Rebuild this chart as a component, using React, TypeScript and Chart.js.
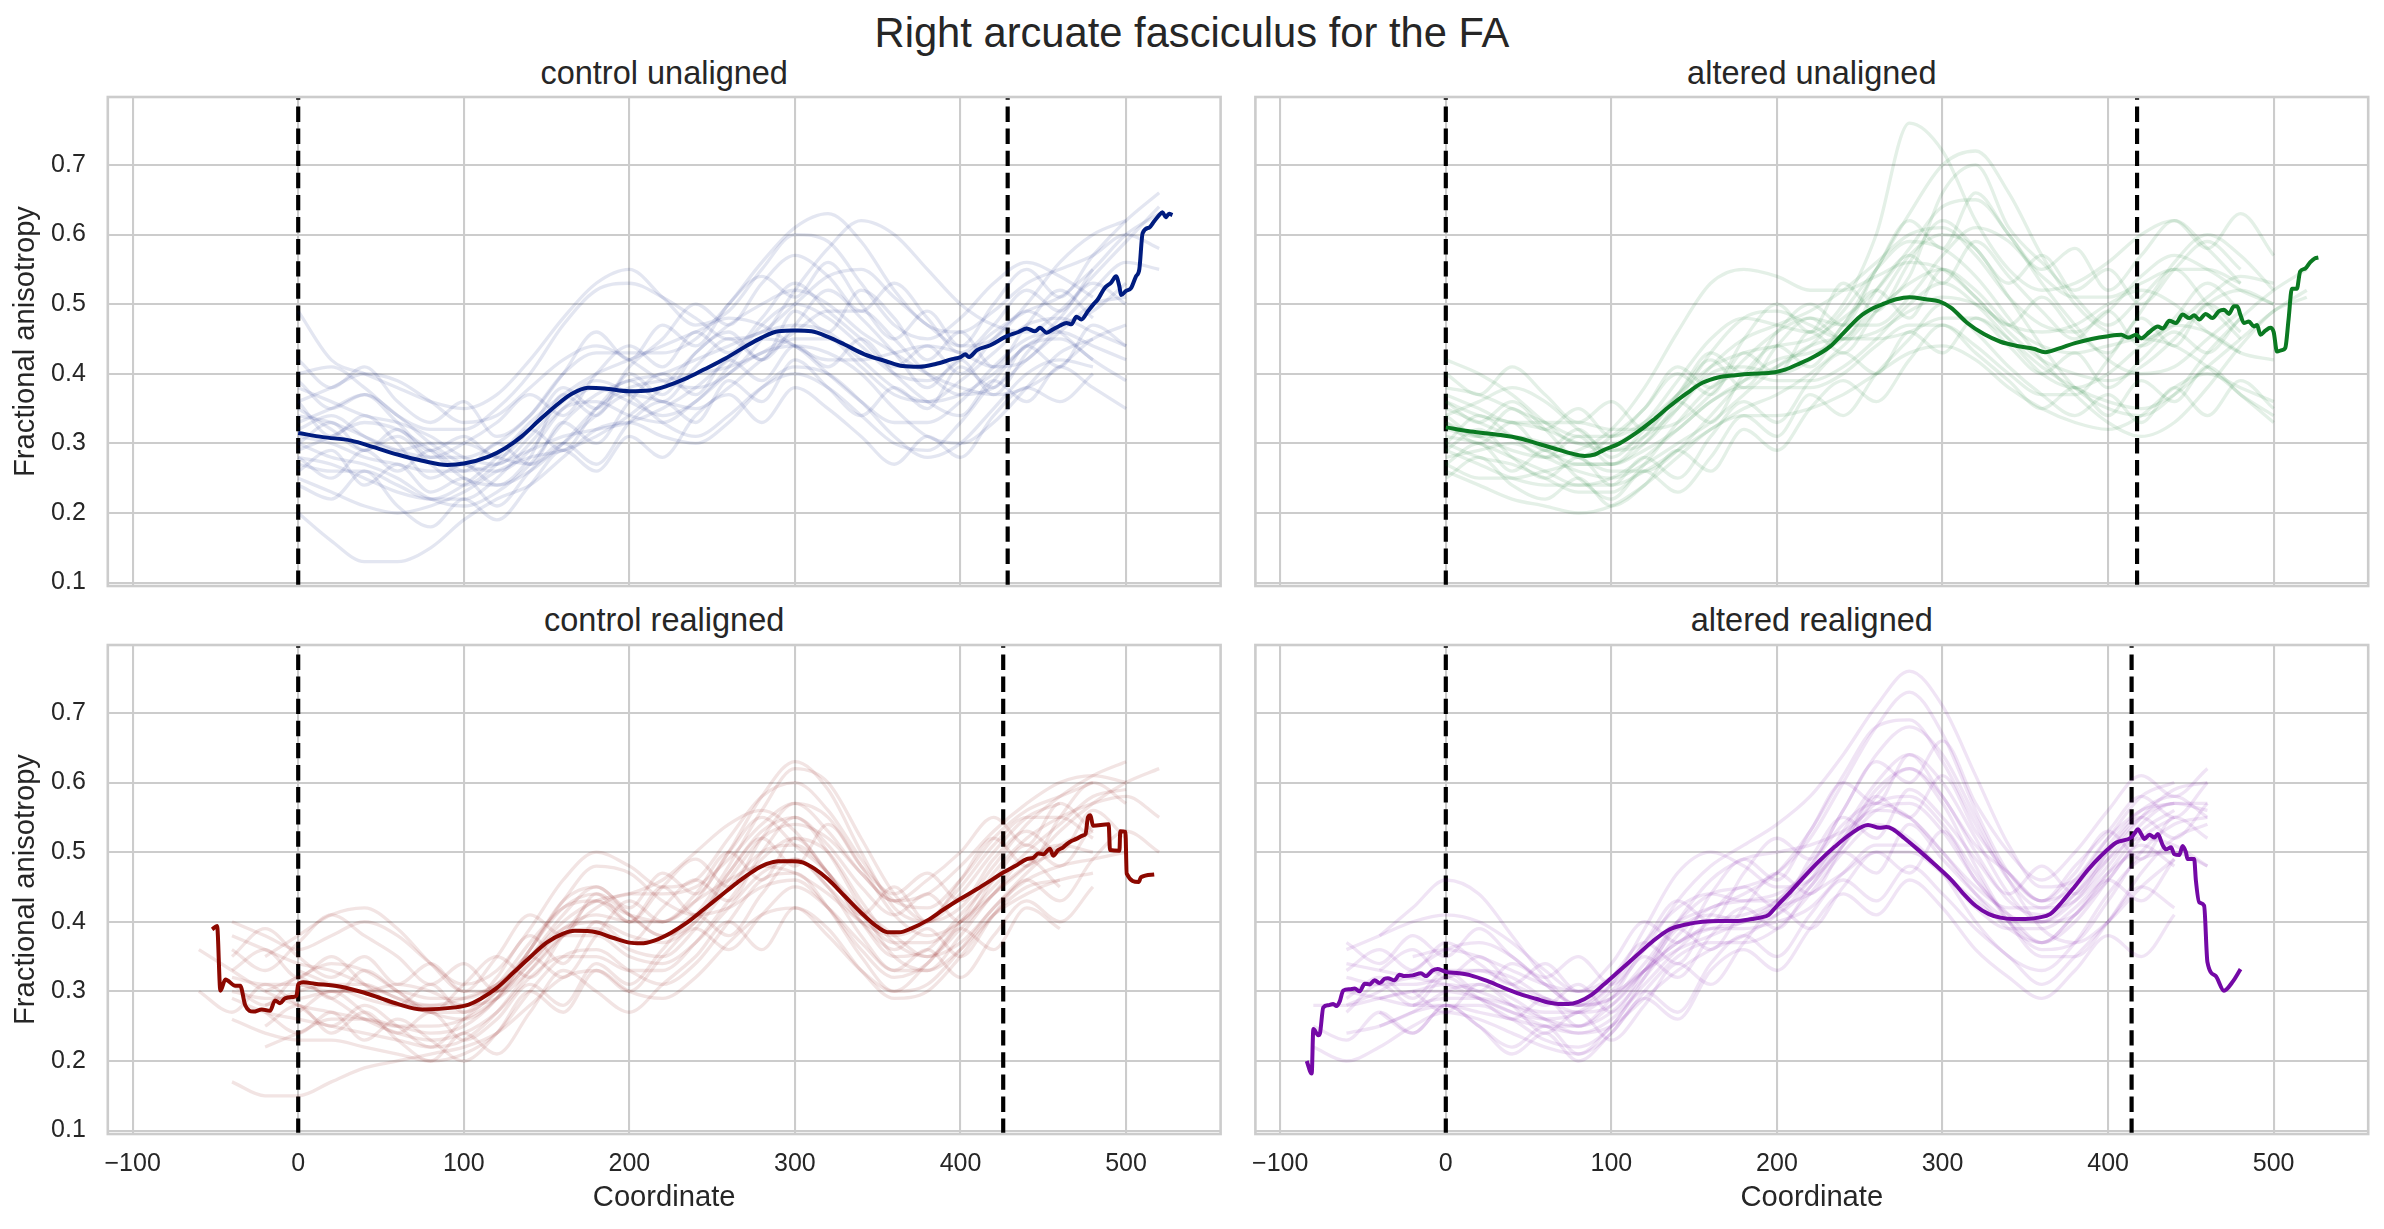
import { useEffect, useRef } from "react";
import { Chart, registerables } from "chart.js";

Chart.register(...registerables);

const FONT = '"Liberation Sans", Arial, Helvetica, sans-serif';
const TEXT = "#262626";
const GRID = "#cccccc";

// axis ticks and limits (shared by all four panels)
const xTicks = [-100, 0, 100, 200, 300, 400, 500];
const xTickLabels = ["\u2212100", "0", "100", "200", "300", "400", "500"];
const yTicks = [0.1, 0.2, 0.3, 0.4, 0.5, 0.6, 0.7];
const yTickLabels = ["0.1", "0.2", "0.3", "0.4", "0.5", "0.6", "0.7"];
const xLimits = [-115, 557.1];
const yLimits = [0.0951, 0.7976];

// sample positions of the individual subject profiles
const unalignedX = [0, 20, 40, 60, 80, 100, 120, 140, 160, 180, 200, 220, 240, 260, 280, 300, 320, 340, 360, 380, 400, 420, 440, 460, 480, 500, 520];
const controlRealignedX = [-60, -40, -20, 0, 20, 40, 60, 80, 100, 120, 140, 160, 180, 200, 220, 240, 260, 280, 300, 320, 340, 360, 380, 400, 420, 440, 460, 480, 500, 520];
const alteredRealignedX = [-80, -60, -40, -20, 0, 20, 40, 60, 80, 100, 120, 140, 160, 180, 200, 220, 240, 260, 280, 300, 320, 340, 360, 380, 400, 420, 440, 460, 480, 500];

const controlUnalignedSubjects = [
  [0.49, 0.42, 0.40, 0.38, 0.36, 0.35, 0.37, 0.42, 0.48, 0.53, 0.55, 0.51, 0.47, 0.49, 0.55, 0.60, 0.59, 0.53, 0.47, 0.45, 0.48, 0.53, 0.56, 0.54, 0.51, null, null],
  [0.20, 0.16, 0.13, 0.13, 0.15, 0.19, 0.22, 0.24, 0.28, 0.32, 0.33, 0.31, 0.30, 0.33, 0.38, 0.41, 0.40, 0.36, 0.31, 0.28, 0.30, 0.35, 0.40, 0.42, 0.41, null, null],
  [0.33, 0.35, 0.37, 0.34, 0.30, 0.27, 0.26, 0.29, 0.35, 0.38, 0.36, 0.34, 0.36, 0.41, 0.47, 0.50, 0.48, 0.44, 0.40, 0.39, 0.42, 0.46, 0.49, 0.51, 0.55, 0.60, 0.63],
  [0.30, 0.28, 0.27, 0.25, 0.22, 0.21, 0.23, 0.27, 0.33, 0.37, 0.39, 0.40, 0.42, 0.44, 0.46, 0.47, 0.46, 0.42, 0.38, 0.36, 0.37, 0.40, 0.44, 0.47, 0.49, 0.53, null],
  [0.36, 0.38, 0.40, 0.39, 0.36, 0.33, 0.34, 0.38, 0.42, 0.44, 0.42, 0.39, 0.38, 0.40, 0.45, 0.52, 0.58, 0.62, 0.60, 0.55, 0.50, 0.47, 0.46, 0.49, 0.54, 0.59, 0.64],
  [0.27, 0.26, 0.26, 0.24, 0.22, 0.22, 0.25, 0.30, 0.35, 0.36, 0.34, 0.33, 0.36, 0.40, 0.43, 0.44, 0.43, 0.40, 0.35, 0.31, 0.30, 0.33, 0.38, 0.43, 0.45, null, null],
  [0.40, 0.41, 0.38, 0.34, 0.32, 0.32, 0.35, 0.40, 0.47, 0.52, 0.53, 0.51, 0.48, 0.45, 0.46, 0.50, 0.54, 0.55, 0.51, 0.47, 0.44, 0.45, 0.50, 0.56, 0.60, 0.62, null],
  [0.31, 0.30, 0.28, 0.27, 0.26, 0.26, 0.27, 0.29, 0.31, 0.32, 0.33, 0.35, 0.38, 0.42, 0.45, 0.44, 0.40, 0.36, 0.33, 0.33, 0.36, 0.41, 0.45, 0.46, 0.44, 0.42, null],
  [0.25, 0.23, 0.21, 0.20, 0.21, 0.23, 0.26, 0.28, 0.29, 0.31, 0.34, 0.38, 0.43, 0.47, 0.50, 0.52, 0.50, 0.46, 0.43, 0.40, 0.38, 0.37, 0.38, 0.41, 0.45, 0.47, null],
  [0.34, 0.33, 0.31, 0.29, 0.28, 0.28, 0.30, 0.34, 0.40, 0.43, 0.43, 0.43, 0.45, 0.50, 0.56, 0.61, 0.63, 0.59, 0.52, 0.47, 0.46, 0.49, 0.53, 0.55, 0.57, 0.60, 0.58],
  [0.38, 0.36, 0.34, 0.33, 0.31, 0.28, 0.27, 0.31, 0.36, 0.39, 0.37, 0.33, 0.31, 0.34, 0.38, 0.40, 0.38, 0.34, 0.30, 0.29, 0.33, 0.39, 0.44, 0.45, 0.42, null, null],
  [0.29, 0.31, 0.33, 0.32, 0.29, 0.25, 0.24, 0.26, 0.30, 0.35, 0.38, 0.39, 0.40, 0.41, 0.43, 0.46, 0.49, 0.49, 0.45, 0.40, 0.37, 0.38, 0.42, 0.46, 0.50, 0.51, null],
  [0.28, 0.27, 0.25, 0.23, 0.22, 0.24, 0.28, 0.33, 0.37, 0.40, 0.42, 0.44, 0.46, 0.48, 0.47, 0.44, 0.42, 0.42, 0.43, 0.44, 0.43, 0.41, 0.42, 0.47, 0.52, 0.56, 0.55],
  [0.32, 0.34, 0.31, 0.29, 0.30, 0.30, 0.28, 0.27, 0.30, 0.34, 0.37, 0.36, 0.35, 0.38, 0.42, 0.45, 0.45, 0.41, 0.37, 0.36, 0.39, 0.43, 0.47, 0.48, 0.46, 0.44, null],
  [0.36, 0.31, 0.34, 0.30, 0.25, 0.27, 0.24, 0.28, 0.37, 0.34, 0.40, 0.37, 0.43, 0.46, 0.42, 0.49, 0.46, 0.52, 0.48, 0.42, 0.46, 0.41, 0.47, 0.52, 0.48, null, null],
  [0.26, 0.29, 0.24, 0.27, 0.23, 0.25, 0.21, 0.26, 0.30, 0.27, 0.33, 0.36, 0.33, 0.39, 0.36, 0.42, 0.38, 0.34, 0.38, 0.35, 0.41, 0.38, 0.44, 0.41, 0.47, 0.44, null],
  [0.42, 0.38, 0.41, 0.36, 0.33, 0.36, 0.31, 0.34, 0.40, 0.46, 0.42, 0.47, 0.44, 0.50, 0.54, 0.51, 0.56, 0.50, 0.45, 0.49, 0.44, 0.50, 0.55, 0.51, 0.57, 0.62, 0.66],
  [0.24, 0.22, 0.26, 0.21, 0.18, 0.22, 0.19, 0.24, 0.29, 0.26, 0.31, 0.28, 0.34, 0.37, 0.33, 0.38, 0.35, 0.31, 0.27, 0.31, 0.28, 0.34, 0.38, 0.36, 0.40, null, null],
  [0.30, 0.33, 0.29, 0.32, 0.28, 0.30, 0.33, 0.37, 0.34, 0.40, 0.44, 0.41, 0.46, 0.43, 0.48, 0.53, 0.49, 0.45, 0.41, 0.44, 0.40, 0.45, 0.49, 0.46, 0.42, 0.39, null],
  [0.35, 0.32, 0.29, 0.31, 0.27, 0.24, 0.27, 0.32, 0.29, 0.35, 0.39, 0.36, 0.41, 0.45, 0.42, 0.47, 0.52, 0.48, 0.43, 0.38, 0.42, 0.37, 0.43, 0.48, 0.53, 0.50, null],
  [0.28, 0.25, 0.29, 0.26, 0.29, 0.26, 0.30, 0.27, 0.33, 0.30, 0.36, 0.40, 0.37, 0.42, 0.39, 0.44, 0.41, 0.45, 0.40, 0.36, 0.34, 0.39, 0.36, 0.41, 0.38, 0.35, null],
  [0.39, 0.35, 0.37, 0.33, 0.29, 0.31, 0.28, 0.32, 0.38, 0.35, 0.41, 0.45, 0.50, 0.47, 0.53, 0.57, 0.54, 0.49, 0.53, 0.48, 0.43, 0.47, 0.52, 0.49, 0.55, null, null],
];

const alteredUnalignedSubjects = [
  [0.42, 0.40, 0.37, 0.33, 0.30, 0.30, 0.33, 0.39, 0.45, 0.48, 0.47, 0.46, 0.50, 0.60, 0.76, 0.72, 0.62, 0.55, 0.52, 0.53, 0.56, 0.60, 0.62, 0.58, 0.53, null, null],
  [0.26, 0.24, 0.22, 0.21, 0.20, 0.21, 0.24, 0.28, 0.32, 0.34, 0.34, 0.35, 0.37, 0.40, 0.43, 0.44, 0.42, 0.38, 0.35, 0.33, 0.32, 0.34, 0.38, 0.40, 0.38, 0.36, null],
  [0.34, 0.36, 0.38, 0.36, 0.32, 0.29, 0.30, 0.35, 0.41, 0.45, 0.47, 0.49, 0.52, 0.56, 0.60, 0.61, 0.57, 0.51, 0.47, 0.46, 0.49, 0.54, 0.57, 0.55, 0.52, 0.50, null],
  [0.30, 0.28, 0.27, 0.25, 0.23, 0.23, 0.27, 0.33, 0.38, 0.40, 0.39, 0.39, 0.41, 0.45, 0.50, 0.53, 0.50, 0.45, 0.40, 0.38, 0.40, 0.44, 0.47, 0.46, 0.43, null, null],
  [0.36, 0.34, 0.33, 0.32, 0.30, 0.29, 0.31, 0.35, 0.40, 0.41, 0.40, 0.42, 0.47, 0.55, 0.63, 0.70, 0.72, 0.66, 0.57, 0.50, 0.46, 0.45, 0.47, 0.51, 0.54, 0.53, null],
  [0.28, 0.29, 0.30, 0.28, 0.26, 0.25, 0.27, 0.30, 0.33, 0.37, 0.41, 0.44, 0.45, 0.45, 0.46, 0.48, 0.48, 0.45, 0.41, 0.38, 0.36, 0.35, 0.37, 0.41, 0.45, 0.49, 0.52],
  [0.33, 0.31, 0.29, 0.28, 0.29, 0.32, 0.38, 0.46, 0.53, 0.55, 0.54, 0.52, 0.52, 0.54, 0.56, 0.55, 0.51, 0.46, 0.42, 0.40, 0.39, 0.41, 0.45, 0.50, 0.52, 0.50, null],
  [0.31, 0.30, 0.28, 0.26, 0.24, 0.24, 0.26, 0.29, 0.32, 0.35, 0.37, 0.40, 0.44, 0.49, 0.53, 0.55, 0.52, 0.47, 0.44, 0.43, 0.44, 0.45, 0.44, 0.41, 0.37, 0.33, null],
  [0.38, 0.37, 0.35, 0.33, 0.31, 0.31, 0.33, 0.37, 0.41, 0.43, 0.44, 0.45, 0.48, 0.52, 0.58, 0.64, 0.65, 0.60, 0.53, 0.47, 0.42, 0.40, 0.41, 0.45, 0.49, null, null],
  [0.27, 0.25, 0.25, 0.26, 0.27, 0.27, 0.29, 0.32, 0.36, 0.38, 0.38, 0.38, 0.40, 0.44, 0.47, 0.47, 0.44, 0.40, 0.37, 0.37, 0.42, 0.49, 0.56, 0.60, 0.57, 0.52, null],
  [0.35, 0.33, 0.31, 0.29, 0.27, 0.27, 0.30, 0.36, 0.43, 0.48, 0.49, 0.47, 0.45, 0.46, 0.49, 0.51, 0.50, 0.47, 0.46, 0.47, 0.50, 0.52, 0.50, 0.46, 0.43, 0.42, null],
  [0.32, 0.31, 0.31, 0.30, 0.28, 0.26, 0.26, 0.29, 0.34, 0.39, 0.42, 0.43, 0.45, 0.50, 0.57, 0.60, 0.58, 0.51, 0.44, 0.38, 0.35, 0.34, 0.37, 0.43, 0.48, null, null],
  [0.29, 0.27, 0.25, 0.24, 0.24, 0.25, 0.28, 0.32, 0.36, 0.39, 0.41, 0.44, 0.49, 0.55, 0.59, 0.58, 0.54, 0.48, 0.42, 0.37, 0.33, 0.31, 0.33, 0.38, 0.44, 0.49, 0.51],
  [0.37, 0.35, 0.33, 0.33, 0.33, 0.32, 0.32, 0.33, 0.37, 0.42, 0.46, 0.48, 0.47, 0.47, 0.51, 0.57, 0.61, 0.59, 0.54, 0.51, 0.51, 0.53, 0.55, 0.55, 0.53, null, null],
  [0.30, 0.34, 0.31, 0.28, 0.31, 0.27, 0.31, 0.36, 0.33, 0.40, 0.44, 0.41, 0.47, 0.52, 0.48, 0.55, 0.51, 0.47, 0.51, 0.46, 0.43, 0.48, 0.44, 0.50, 0.46, null, null],
  [0.40, 0.37, 0.41, 0.37, 0.33, 0.36, 0.32, 0.37, 0.43, 0.40, 0.46, 0.50, 0.47, 0.55, 0.62, 0.58, 0.66, 0.60, 0.55, 0.58, 0.52, 0.57, 0.62, 0.58, 0.63, 0.57, null],
  [0.25, 0.28, 0.24, 0.22, 0.25, 0.21, 0.24, 0.29, 0.26, 0.32, 0.29, 0.35, 0.39, 0.36, 0.42, 0.47, 0.43, 0.39, 0.35, 0.38, 0.34, 0.39, 0.36, 0.41, 0.37, 0.34, null],
  [0.33, 0.30, 0.33, 0.29, 0.32, 0.28, 0.32, 0.37, 0.42, 0.38, 0.44, 0.48, 0.45, 0.52, 0.57, 0.53, 0.59, 0.54, 0.49, 0.45, 0.49, 0.44, 0.48, 0.53, 0.49, null, null],
  [0.29, 0.32, 0.28, 0.25, 0.28, 0.24, 0.28, 0.25, 0.31, 0.36, 0.33, 0.39, 0.43, 0.40, 0.46, 0.43, 0.48, 0.44, 0.40, 0.43, 0.38, 0.42, 0.46, 0.43, 0.48, 0.52, 0.55],
  [0.36, 0.33, 0.36, 0.32, 0.28, 0.31, 0.35, 0.41, 0.38, 0.45, 0.50, 0.46, 0.53, 0.49, 0.56, 0.62, 0.58, 0.53, 0.57, 0.51, 0.47, 0.51, 0.55, 0.50, 0.45, null, null],
  [0.27, 0.30, 0.26, 0.29, 0.25, 0.22, 0.26, 0.23, 0.28, 0.34, 0.31, 0.37, 0.34, 0.40, 0.45, 0.50, 0.46, 0.41, 0.37, 0.34, 0.37, 0.33, 0.38, 0.34, 0.39, 0.35, null],
  [0.34, 0.31, 0.35, 0.32, 0.35, 0.31, 0.35, 0.40, 0.37, 0.43, 0.40, 0.46, 0.43, 0.49, 0.54, 0.66, 0.70, 0.61, 0.56, 0.52, 0.55, 0.50, 0.55, 0.59, 0.55, null, null],
];

const controlRealignedSubjects = [
  [null, 0.40, 0.38, 0.36, 0.38, 0.40, 0.38, 0.34, 0.31, 0.33, 0.39, 0.46, 0.50, 0.48, 0.45, 0.46, 0.52, 0.58, 0.60, 0.56, 0.49, 0.43, 0.42, 0.46, 0.52, 0.56, 0.58, 0.60, null, null],
  [null, 0.17, 0.15, 0.15, 0.17, 0.19, 0.20, 0.21, 0.22, 0.24, 0.28, 0.32, 0.33, 0.30, 0.29, 0.32, 0.37, 0.41, 0.42, 0.39, 0.33, 0.29, 0.30, 0.35, 0.41, 0.45, 0.46, null, null, null],
  [null, null, 0.30, 0.32, 0.34, 0.33, 0.30, 0.27, 0.26, 0.29, 0.36, 0.43, 0.45, 0.41, 0.38, 0.41, 0.48, 0.56, 0.62, 0.60, 0.52, 0.44, 0.40, 0.42, 0.48, 0.54, 0.58, 0.61, 0.63, null],
  [null, 0.29, 0.27, 0.26, 0.25, 0.24, 0.23, 0.22, 0.23, 0.27, 0.33, 0.38, 0.39, 0.36, 0.35, 0.39, 0.45, 0.50, 0.51, 0.47, 0.40, 0.35, 0.36, 0.41, 0.46, 0.49, 0.51, 0.50, null, null],
  [null, null, null, 0.33, 0.31, 0.29, 0.28, 0.28, 0.29, 0.31, 0.35, 0.40, 0.43, 0.44, 0.46, 0.50, 0.54, 0.56, 0.53, 0.47, 0.41, 0.37, 0.37, 0.40, 0.44, 0.48, 0.53, 0.57, 0.60, 0.62],
  [0.36, 0.33, 0.30, 0.28, 0.27, 0.26, 0.25, 0.25, 0.26, 0.29, 0.34, 0.38, 0.38, 0.35, 0.34, 0.37, 0.42, 0.47, 0.49, 0.45, 0.38, 0.33, 0.33, 0.38, 0.44, 0.48, 0.50, null, null, null],
  [null, null, 0.35, 0.38, 0.41, 0.42, 0.39, 0.34, 0.30, 0.30, 0.34, 0.39, 0.41, 0.40, 0.40, 0.43, 0.46, 0.48, 0.47, 0.44, 0.40, 0.38, 0.40, 0.45, 0.51, 0.55, 0.55, 0.52, null, null],
  [null, 0.26, 0.24, 0.23, 0.23, 0.22, 0.21, 0.20, 0.21, 0.24, 0.30, 0.35, 0.36, 0.33, 0.31, 0.34, 0.40, 0.46, 0.47, 0.42, 0.35, 0.30, 0.31, 0.36, 0.42, 0.46, 0.48, 0.49, 0.50, null],
  [null, null, null, 0.31, 0.30, 0.30, 0.31, 0.30, 0.28, 0.29, 0.33, 0.38, 0.42, 0.44, 0.44, 0.45, 0.49, 0.54, 0.57, 0.55, 0.48, 0.41, 0.38, 0.40, 0.45, 0.50, 0.54, 0.58, 0.59, null],
  [null, 0.32, 0.31, 0.31, 0.29, 0.26, 0.24, 0.23, 0.24, 0.27, 0.32, 0.35, 0.35, 0.33, 0.33, 0.37, 0.43, 0.49, 0.52, 0.50, 0.43, 0.37, 0.35, 0.37, 0.42, 0.47, 0.51, 0.53, null, null],
  [null, null, 0.28, 0.30, 0.31, 0.31, 0.29, 0.28, 0.28, 0.31, 0.37, 0.42, 0.43, 0.41, 0.40, 0.43, 0.50, 0.58, 0.63, 0.59, 0.50, 0.42, 0.40, 0.44, 0.50, 0.55, 0.57, null, null, null],
  [null, 0.38, 0.36, 0.34, 0.33, 0.31, 0.29, 0.27, 0.27, 0.30, 0.36, 0.43, 0.48, 0.47, 0.43, 0.41, 0.42, 0.45, 0.46, 0.42, 0.36, 0.32, 0.34, 0.40, 0.47, 0.52, 0.55, 0.57, 0.58, 0.55],
  [null, null, 0.22, 0.24, 0.26, 0.26, 0.25, 0.24, 0.25, 0.29, 0.36, 0.42, 0.44, 0.41, 0.38, 0.40, 0.47, 0.53, 0.55, 0.50, 0.42, 0.35, 0.33, 0.36, 0.41, 0.44, 0.46, 0.47, null, null],
  [null, 0.30, 0.29, 0.29, 0.30, 0.30, 0.30, 0.29, 0.29, 0.31, 0.35, 0.39, 0.40, 0.38, 0.37, 0.40, 0.46, 0.52, 0.54, 0.52, 0.47, 0.43, 0.44, 0.48, 0.53, 0.57, 0.60, 0.61, 0.60, null],
  [null, 0.33, 0.36, 0.32, 0.35, 0.31, 0.28, 0.31, 0.27, 0.32, 0.38, 0.34, 0.40, 0.37, 0.42, 0.46, 0.43, 0.50, 0.55, 0.51, 0.45, 0.41, 0.44, 0.40, 0.46, 0.51, 0.48, 0.54, null, null],
  [null, null, 0.25, 0.28, 0.24, 0.27, 0.23, 0.20, 0.24, 0.21, 0.27, 0.33, 0.30, 0.27, 0.31, 0.35, 0.40, 0.36, 0.42, 0.38, 0.33, 0.30, 0.34, 0.39, 0.36, 0.42, 0.39, null, null, null],
  [null, 0.36, 0.33, 0.37, 0.41, 0.38, 0.35, 0.31, 0.34, 0.30, 0.35, 0.41, 0.45, 0.42, 0.47, 0.44, 0.50, 0.55, 0.51, 0.47, 0.41, 0.45, 0.40, 0.46, 0.52, 0.48, 0.55, 0.60, 0.57, null],
  [null, null, null, 0.27, 0.30, 0.27, 0.24, 0.27, 0.23, 0.26, 0.31, 0.28, 0.34, 0.31, 0.36, 0.41, 0.38, 0.44, 0.49, 0.45, 0.40, 0.36, 0.39, 0.35, 0.41, 0.46, 0.43, 0.49, 0.53, 0.50],
  [0.30, 0.27, 0.31, 0.28, 0.25, 0.28, 0.25, 0.22, 0.26, 0.30, 0.35, 0.32, 0.38, 0.43, 0.40, 0.44, 0.50, 0.46, 0.52, 0.47, 0.42, 0.38, 0.35, 0.39, 0.44, 0.49, 0.45, null, null, null],
  [null, 0.35, 0.39, 0.35, 0.32, 0.35, 0.31, 0.34, 0.30, 0.35, 0.41, 0.38, 0.44, 0.40, 0.45, 0.49, 0.45, 0.52, 0.57, 0.53, 0.47, 0.43, 0.46, 0.50, 0.55, 0.51, 0.57, 0.53, null, null],
  [null, null, 0.27, 0.24, 0.27, 0.23, 0.26, 0.23, 0.20, 0.24, 0.30, 0.27, 0.33, 0.30, 0.35, 0.39, 0.36, 0.41, 0.45, 0.42, 0.37, 0.33, 0.36, 0.32, 0.38, 0.43, 0.40, 0.45, null, null],
  [null, 0.31, 0.28, 0.32, 0.29, 0.33, 0.30, 0.27, 0.31, 0.35, 0.32, 0.38, 0.43, 0.40, 0.45, 0.41, 0.47, 0.52, 0.48, 0.54, 0.48, 0.44, 0.47, 0.43, 0.49, 0.53, 0.50, 0.56, 0.52, null],
];

const alteredRealignedSubjects = [
  [0.22, 0.20, 0.22, 0.25, 0.27, 0.26, 0.24, 0.22, 0.21, 0.24, 0.30, 0.35, 0.37, 0.37, 0.39, 0.44, 0.50, 0.54, 0.52, 0.47, 0.40, 0.35, 0.33, 0.37, 0.44, 0.49, 0.50, null, null, null],
  [null, 0.28, 0.30, 0.33, 0.36, 0.37, 0.35, 0.31, 0.28, 0.29, 0.34, 0.40, 0.44, 0.45, 0.47, 0.52, 0.60, 0.68, 0.73, 0.67, 0.56, 0.47, 0.43, 0.45, 0.51, 0.56, 0.58, 0.55, null, null],
  [null, null, 0.38, 0.42, 0.46, 0.44, 0.38, 0.32, 0.28, 0.29, 0.33, 0.37, 0.39, 0.40, 0.43, 0.48, 0.54, 0.57, 0.55, 0.50, 0.45, 0.42, 0.42, 0.46, 0.52, 0.56, 0.57, null, null, null],
  [null, 0.30, 0.29, 0.28, 0.28, 0.27, 0.26, 0.25, 0.25, 0.27, 0.32, 0.38, 0.42, 0.43, 0.44, 0.47, 0.52, 0.57, 0.58, 0.54, 0.47, 0.40, 0.36, 0.37, 0.43, 0.50, 0.54, 0.55, null, null],
  [null, null, 0.25, 0.27, 0.30, 0.31, 0.29, 0.26, 0.24, 0.25, 0.29, 0.33, 0.36, 0.38, 0.41, 0.46, 0.53, 0.60, 0.64, 0.60, 0.52, 0.44, 0.40, 0.41, 0.47, 0.53, 0.56, null, null, null],
  [null, 0.34, 0.33, 0.32, 0.31, 0.29, 0.27, 0.26, 0.27, 0.31, 0.39, 0.47, 0.50, 0.48, 0.45, 0.46, 0.51, 0.58, 0.62, 0.58, 0.50, 0.43, 0.41, 0.44, 0.49, 0.52, 0.51, 0.48, null, null],
  [null, null, null, 0.28, 0.29, 0.29, 0.28, 0.27, 0.27, 0.30, 0.36, 0.43, 0.48, 0.51, 0.54, 0.58, 0.64, 0.71, 0.76, 0.71, 0.61, 0.51, 0.45, 0.46, 0.52, 0.58, 0.60, null, null, null],
  [0.28, 0.28, 0.29, 0.30, 0.31, 0.30, 0.28, 0.26, 0.25, 0.28, 0.33, 0.37, 0.39, 0.39, 0.40, 0.42, 0.47, 0.51, 0.51, 0.47, 0.42, 0.39, 0.39, 0.42, 0.47, 0.50, 0.50, 0.48, null, null],
  [null, null, 0.31, 0.32, 0.33, 0.33, 0.31, 0.29, 0.28, 0.31, 0.37, 0.42, 0.44, 0.43, 0.43, 0.46, 0.52, 0.59, 0.62, 0.57, 0.48, 0.40, 0.35, 0.35, 0.40, 0.47, 0.52, 0.54, null, null],
  [null, 0.24, 0.25, 0.27, 0.28, 0.28, 0.26, 0.23, 0.22, 0.25, 0.32, 0.40, 0.46, 0.49, 0.50, 0.51, 0.53, 0.56, 0.55, 0.50, 0.44, 0.39, 0.37, 0.40, 0.46, 0.52, 0.55, null, null, null],
  [null, null, null, 0.35, 0.36, 0.35, 0.33, 0.31, 0.30, 0.32, 0.36, 0.40, 0.42, 0.44, 0.47, 0.53, 0.61, 0.68, 0.69, 0.63, 0.54, 0.46, 0.42, 0.43, 0.48, 0.54, 0.57, 0.57, null, null],
  [null, 0.36, 0.38, 0.40, 0.41, 0.40, 0.37, 0.33, 0.30, 0.30, 0.33, 0.36, 0.38, 0.40, 0.42, 0.44, 0.47, 0.50, 0.50, 0.47, 0.43, 0.40, 0.40, 0.43, 0.49, 0.55, 0.59, 0.60, null, null],
  [null, null, 0.29, 0.30, 0.30, 0.29, 0.27, 0.25, 0.24, 0.26, 0.31, 0.36, 0.40, 0.41, 0.43, 0.48, 0.56, 0.64, 0.68, 0.64, 0.55, 0.46, 0.39, 0.37, 0.40, 0.45, 0.49, null, null, null],
  [null, 0.32, 0.31, 0.31, 0.32, 0.33, 0.32, 0.29, 0.27, 0.28, 0.33, 0.39, 0.41, 0.40, 0.41, 0.45, 0.51, 0.56, 0.57, 0.53, 0.46, 0.41, 0.40, 0.44, 0.50, 0.55, 0.57, 0.56, null, null],
  [null, 0.27, 0.31, 0.28, 0.32, 0.29, 0.26, 0.29, 0.25, 0.29, 0.35, 0.32, 0.38, 0.42, 0.39, 0.45, 0.50, 0.47, 0.54, 0.49, 0.44, 0.40, 0.37, 0.41, 0.46, 0.51, 0.48, null, null, null],
  [null, null, 0.33, 0.36, 0.32, 0.35, 0.31, 0.28, 0.31, 0.27, 0.33, 0.39, 0.36, 0.42, 0.47, 0.44, 0.51, 0.58, 0.55, 0.61, 0.53, 0.47, 0.43, 0.47, 0.53, 0.49, 0.55, 0.52, null, null],
  [0.25, 0.23, 0.27, 0.24, 0.28, 0.25, 0.22, 0.25, 0.21, 0.25, 0.30, 0.27, 0.34, 0.38, 0.35, 0.41, 0.46, 0.43, 0.48, 0.44, 0.39, 0.35, 0.31, 0.35, 0.40, 0.45, 0.42, null, null, null],
  [null, 0.37, 0.34, 0.38, 0.35, 0.39, 0.35, 0.32, 0.35, 0.31, 0.37, 0.43, 0.40, 0.47, 0.52, 0.49, 0.56, 0.63, 0.60, 0.66, 0.57, 0.50, 0.46, 0.50, 0.56, 0.61, 0.58, 0.62, null, null],
  [null, null, null, 0.30, 0.27, 0.31, 0.28, 0.24, 0.27, 0.23, 0.28, 0.34, 0.31, 0.37, 0.42, 0.39, 0.45, 0.50, 0.47, 0.53, 0.46, 0.41, 0.37, 0.41, 0.46, 0.43, 0.49, null, null, null],
  [null, 0.29, 0.32, 0.29, 0.33, 0.30, 0.34, 0.31, 0.28, 0.32, 0.37, 0.34, 0.41, 0.45, 0.42, 0.49, 0.55, 0.52, 0.59, 0.55, 0.49, 0.44, 0.48, 0.44, 0.50, 0.55, 0.52, 0.57, null, null],
  [null, null, 0.27, 0.24, 0.28, 0.25, 0.21, 0.24, 0.20, 0.24, 0.29, 0.26, 0.33, 0.36, 0.33, 0.39, 0.44, 0.41, 0.46, 0.42, 0.36, 0.32, 0.29, 0.33, 0.38, 0.35, 0.41, null, null, null],
  [null, 0.33, 0.36, 0.33, 0.37, 0.34, 0.31, 0.34, 0.30, 0.34, 0.40, 0.37, 0.44, 0.49, 0.46, 0.53, 0.60, 0.57, 0.64, 0.58, 0.51, 0.47, 0.43, 0.48, 0.53, 0.58, 0.55, 0.60, null, null],
];

// group mean profiles as [coordinate, FA]
const controlUnalignedMean = [
  [0, 0.315], [15, 0.309], [32, 0.304], [45, 0.295], [60, 0.284], [75, 0.275], [90, 0.269], [100, 0.271],
  [115, 0.281], [125, 0.293], [135, 0.31], [145, 0.332], [155, 0.353], [165, 0.371], [175, 0.38], [185, 0.379],
  [200, 0.375], [212, 0.376], [222, 0.382], [235, 0.394], [245, 0.406], [258, 0.422], [270, 0.439], [280, 0.452],
  [290, 0.461], [300, 0.462], [310, 0.461], [320, 0.453], [330, 0.442], [342, 0.428], [355, 0.418], [365, 0.411],
  [375, 0.41], [385, 0.414], [395, 0.421], [400, 0.424], [403, 0.428], [405, 0.424], [410, 0.434], [418, 0.441],
  [428, 0.454], [435, 0.46], [440, 0.465], [445, 0.461], [448, 0.466], [452, 0.459], [456, 0.464], [460, 0.469],
  [464, 0.473], [467, 0.471], [470, 0.482], [473, 0.478], [477, 0.49], [480, 0.499], [483, 0.507], [487, 0.523],
  [491, 0.531], [494, 0.54], [496, 0.525], [497, 0.513], [500, 0.519], [503, 0.523], [506, 0.54], [508, 0.55],
  [510, 0.602], [514, 0.61], [517, 0.619], [520, 0.628], [522, 0.632], [524, 0.625], [526, 0.63], [528, 0.628],
];

const alteredUnalignedMean = [
  [0, 0.323], [15, 0.317], [33, 0.312], [45, 0.307], [55, 0.3], [65, 0.293], [75, 0.286], [84, 0.282],
  [90, 0.284], [95, 0.29], [105, 0.3], [115, 0.315], [125, 0.333], [135, 0.353], [145, 0.371], [155, 0.387],
  [165, 0.395], [175, 0.398], [185, 0.4], [195, 0.401], [205, 0.406], [212, 0.413], [222, 0.424], [232, 0.439],
  [240, 0.458], [250, 0.482], [258, 0.494], [265, 0.501], [272, 0.507], [280, 0.51], [290, 0.507], [298, 0.504],
  [305, 0.495], [315, 0.473], [325, 0.457], [335, 0.446], [345, 0.44], [355, 0.436], [362, 0.431], [370, 0.436],
  [380, 0.444], [390, 0.45], [400, 0.454], [408, 0.456], [412, 0.452], [417, 0.456], [420, 0.451], [425, 0.46],
  [430, 0.468], [433, 0.465], [437, 0.476], [441, 0.473], [445, 0.485], [449, 0.48], [452, 0.484], [455, 0.478],
  [459, 0.486], [463, 0.48], [467, 0.49], [470, 0.492], [473, 0.486], [476, 0.497], [478, 0.497], [480, 0.484],
  [482, 0.473], [485, 0.475], [488, 0.468], [490, 0.47], [492, 0.456], [495, 0.462], [498, 0.466], [500, 0.46],
  [502, 0.432], [505, 0.434], [507, 0.437], [509, 0.478], [511, 0.522], [514, 0.522], [516, 0.547], [519, 0.551],
  [522, 0.56], [525, 0.566], [527, 0.567],
];

const controlRealignedMean = [
  [-52, 0.389], [-49, 0.394], [-47, 0.301], [-44, 0.317], [-38, 0.308], [-35, 0.308], [-32, 0.28], [-27, 0.271],
  [-22, 0.274], [-17, 0.272], [-14, 0.287], [-11, 0.283], [-8, 0.29], [-3, 0.292], [-1, 0.294], [0, 0.31],
  [3, 0.313], [10, 0.311], [25, 0.307], [40, 0.298], [50, 0.29], [60, 0.282], [75, 0.274], [95, 0.277],
  [103, 0.281], [110, 0.289], [120, 0.305], [130, 0.327], [140, 0.349], [150, 0.37], [160, 0.383], [167, 0.387],
  [180, 0.385], [190, 0.377], [200, 0.37], [207, 0.369], [215, 0.373], [225, 0.384], [235, 0.399], [245, 0.418],
  [255, 0.437], [265, 0.456], [275, 0.473], [283, 0.483], [290, 0.487], [298, 0.487], [305, 0.485], [312, 0.476],
  [320, 0.461], [330, 0.437], [340, 0.413], [348, 0.396], [356, 0.385], [363, 0.385], [370, 0.39], [380, 0.402],
  [390, 0.418], [400, 0.433], [410, 0.447], [420, 0.462], [426, 0.471], [433, 0.48], [440, 0.49], [444, 0.492],
  [447, 0.498], [450, 0.497], [454, 0.505], [456, 0.495], [459, 0.503], [462, 0.507], [465, 0.513], [467, 0.516],
  [470, 0.519], [474, 0.524], [475.5, 0.526], [477, 0.55], [478.5, 0.553], [480, 0.538], [489.5, 0.54], [490.3, 0.503],
  [496, 0.502], [496.5, 0.53], [499.6, 0.529], [500.4, 0.469], [507.6, 0.457], [509, 0.464], [517, 0.468],
];

const alteredRealignedMean = [
  [-84, 0.2], [-81, 0.182], [-80, 0.246], [-77, 0.237], [-76, 0.24], [-74, 0.277], [-71, 0.28], [-68, 0.282],
  [-66, 0.279], [-64, 0.286], [-62, 0.301], [-58, 0.303], [-55, 0.304], [-52, 0.3], [-49, 0.311], [-46, 0.31],
  [-43, 0.316], [-40, 0.312], [-37, 0.318], [-35, 0.319], [-31, 0.316], [-28, 0.324], [-25, 0.322], [-20, 0.323],
  [-15, 0.326], [-12, 0.322], [-8, 0.33], [-5, 0.332], [-2, 0.33], [0, 0.328], [8, 0.326], [15, 0.323],
  [25, 0.315], [35, 0.305], [45, 0.296], [55, 0.289], [62, 0.284], [68, 0.282], [74, 0.282], [80, 0.285],
  [88, 0.295], [95, 0.309], [105, 0.33], [115, 0.351], [125, 0.372], [135, 0.389], [145, 0.396], [155, 0.4],
  [165, 0.401], [175, 0.401], [185, 0.404], [190, 0.406], [195, 0.41], [200, 0.423], [207, 0.44], [215, 0.461],
  [225, 0.486], [235, 0.508], [245, 0.527], [255, 0.539], [262, 0.535], [266, 0.536], [270, 0.533], [277, 0.52],
  [285, 0.504], [295, 0.483], [305, 0.461], [312, 0.442], [320, 0.423], [328, 0.411], [335, 0.406], [342, 0.404],
  [350, 0.404], [358, 0.406], [365, 0.411], [372, 0.428], [380, 0.451], [388, 0.475], [395, 0.493], [405, 0.514],
  [414, 0.521], [416, 0.527], [418, 0.533], [420, 0.526], [422, 0.519], [425, 0.525], [428, 0.521], [430, 0.526],
  [433, 0.51], [435, 0.504], [438, 0.507], [440, 0.497], [443, 0.496], [445, 0.509], [447, 0.5], [448, 0.49],
  [452, 0.49], [453, 0.46], [455, 0.428], [458, 0.423], [460, 0.342], [465, 0.322], [470, 0.301], [475, 0.313],
  [480, 0.332],
];

// tract start / end markers
const controlUnalignedBounds = [0, 428.5];
const alteredUnalignedBounds = [0, 417.5];
const controlRealignedBounds = [0, 425.8];
const alteredRealignedBounds = [0, 414.2];

function withAlpha(hex: string, a: number) {
  const n = parseInt(hex.slice(1), 16);
  return `rgba(${(n >> 16) & 255}, ${(n >> 8) & 255}, ${n & 255}, ${a})`;
}

const spines = {
  id: "spines",
  afterDatasetsDraw(chart: any) {
    const { ctx, chartArea: a } = chart;
    ctx.save();
    ctx.strokeStyle = GRID;
    ctx.lineWidth = 2.6;
    ctx.strokeRect(a.left, a.top, a.right - a.left, a.bottom - a.top);
    ctx.restore();
  },
};

// keep tick labels from pushing the plot area around
function noPadding(s: any) {
  s.paddingLeft = 0;
  s.paddingRight = 0;
  s.paddingTop = 0;
  s.paddingBottom = 0;
}

type PanelProps = {
  left: number;
  top: number;
  width: number;
  height: number;
  padTop: number;
  padRight: number;
  yAxisWidth: number;
  xAxisHeight: number;
  showX: boolean;
  showY: boolean;
  subjectX: number[];
  subjects: (number | null)[][];
  mean: number[][];
  bounds: number[];
  color: string;
};

function Panel(p: PanelProps) {
  const canvasRef = useRef<HTMLCanvasElement>(null);

  useEffect(() => {
    if (!canvasRef.current) return;
    const faint = withAlpha(p.color, 0.11);

    const datasets: any[] = p.subjects.map((s) => ({
      data: s
        .map((y, i) => ({ x: p.subjectX[i], y }))
        .filter((pt) => pt.y !== null && pt.x !== undefined),
      borderColor: faint,
      borderWidth: 3.3,
      pointRadius: 0,
      cubicInterpolationMode: "monotone",
    }));

    datasets.push({
      data: p.mean.map(([x, y]) => ({ x, y })),
      borderColor: p.color,
      borderWidth: 4,
      pointRadius: 0,
      cubicInterpolationMode: "monotone",
    });

    p.bounds.forEach((b) => {
      datasets.push({
        data: [
          { x: b, y: yLimits[0] },
          { x: b, y: yLimits[1] },
        ],
        borderColor: "#000000",
        borderWidth: 4.17,
        borderDash: [15.4, 6.7],
        pointRadius: 0,
      });
    });

    const chart = new Chart(canvasRef.current, {
      type: "line",
      data: { datasets },
      options: {
        animation: false,
        responsive: true,
        maintainAspectRatio: false,
        events: [],
        layout: { padding: { top: p.padTop, right: p.padRight, left: 0, bottom: 0 } },
        plugins: { legend: { display: false }, tooltip: { enabled: false } },
        scales: {
          x: {
            type: "linear",
            min: xLimits[0],
            max: xLimits[1],
            afterBuildTicks: (s: any) => {
              s.ticks = xTicks.map((v) => ({ value: v }));
            },
            afterFit: (s: any) => {
              s.height = p.xAxisHeight;
              noPadding(s);
            },
            grid: { color: GRID, lineWidth: 2.08, drawTicks: false },
            border: { display: false },
            ticks: {
              display: p.showX,
              padding: 15,
              maxRotation: 0,
              autoSkip: false,
              color: TEXT,
              font: { family: FONT, size: 25 },
              callback: (_v: any, i: number) => xTickLabels[i],
            },
            title: {
              display: p.showX,
              text: "Coordinate",
              color: TEXT,
              font: { family: FONT, size: 29.2 },
              padding: { top: 0, bottom: 13.9 },
            },
          },
          y: {
            type: "linear",
            min: yLimits[0],
            max: yLimits[1],
            afterBuildTicks: (s: any) => {
              s.ticks = yTicks.map((v) => ({ value: v }));
            },
            afterFit: (s: any) => {
              s.width = p.yAxisWidth;
              noPadding(s);
            },
            grid: { color: GRID, lineWidth: 2.08, drawTicks: false },
            border: { display: false },
            ticks: {
              display: p.showY,
              padding: 22,
              autoSkip: false,
              color: TEXT,
              font: { family: FONT, size: 25 },
              callback: (_v: any, i: number) => yTickLabels[i],
            },
            title: {
              display: p.showY,
              text: "Fractional anisotropy",
              color: TEXT,
              font: { family: FONT, size: 29.2 },
              padding: { top: 8.9, bottom: 0 },
            },
          },
        },
      },
      plugins: [spines],
    });

    return () => chart.destroy();
  }, []);

  return (
    <div style={{ position: "absolute", left: p.left, top: p.top, width: p.width, height: p.height }}>
      <canvas ref={canvasRef} />
    </div>
  );
}

function SubTitle({ text, center, baseline }: { text: string; center: number; baseline: number }) {
  const size = 32.5;
  return (
    <div
      style={{
        position: "absolute",
        left: center - 400,
        width: 800,
        top: baseline - 0.8465 * size,
        textAlign: "center",
        fontSize: size,
        lineHeight: 1,
        color: TEXT,
        whiteSpace: "nowrap",
      }}
    >
      {text}
    </div>
  );
}

export default function App() {
  useEffect(() => {
    document.body.style.margin = "0";
    document.body.style.overflow = "hidden";
  }, []);

  const leftCenter = (107.8 + 1220.6) / 2;
  const rightCenter = (1255.4 + 2368.2) / 2;

  return (
    <div
      style={{
        position: "absolute",
        left: 0,
        top: 0,
        width: 2384,
        height: 1229,
        background: "#ffffff",
        overflow: "hidden",
        fontFamily: FONT,
      }}
    >
      <div
        style={{
          position: "absolute",
          left: 0,
          width: 2384,
          top: 47 - 0.8465 * 41.7,
          textAlign: "center",
          fontSize: 41.7,
          lineHeight: 1,
          color: TEXT,
        }}
      >
        Right arcuate fasciculus for the FA
      </div>

      <SubTitle text="control unaligned" center={leftCenter} baseline={84.5} />
      <SubTitle text="altered unaligned" center={rightCenter} baseline={84.5} />
      <SubTitle text="control realigned" center={leftCenter} baseline={631.7} />
      <SubTitle text="altered realigned" center={rightCenter} baseline={631.7} />

      <Panel
        left={0} top={90} width={1238} height={510} padTop={7} padRight={17.4}
        yAxisWidth={107.8} xAxisHeight={14} showX={false} showY={true}
        subjectX={unalignedX} subjects={controlUnalignedSubjects} mean={controlUnalignedMean}
        bounds={controlUnalignedBounds} color="#001c7f"
      />
      <Panel
        left={1238} top={90} width={1146} height={510} padTop={7} padRight={15.8}
        yAxisWidth={17.4} xAxisHeight={14} showX={false} showY={false}
        subjectX={unalignedX} subjects={alteredUnalignedSubjects} mean={alteredUnalignedMean}
        bounds={alteredUnalignedBounds} color="#0b7a22"
      />
      <Panel
        left={0} top={638} width={1238} height={591} padTop={7} padRight={17.4}
        yAxisWidth={107.8} xAxisHeight={95} showX={true} showY={true}
        subjectX={controlRealignedX} subjects={controlRealignedSubjects} mean={controlRealignedMean}
        bounds={controlRealignedBounds} color="#8c0800"
      />
      <Panel
        left={1238} top={638} width={1146} height={591} padTop={7} padRight={15.8}
        yAxisWidth={17.4} xAxisHeight={95} showX={true} showY={false}
        subjectX={alteredRealignedX} subjects={alteredRealignedSubjects} mean={alteredRealignedMean}
        bounds={alteredRealignedBounds} color="#7409a6"
      />
    </div>
  );
}
